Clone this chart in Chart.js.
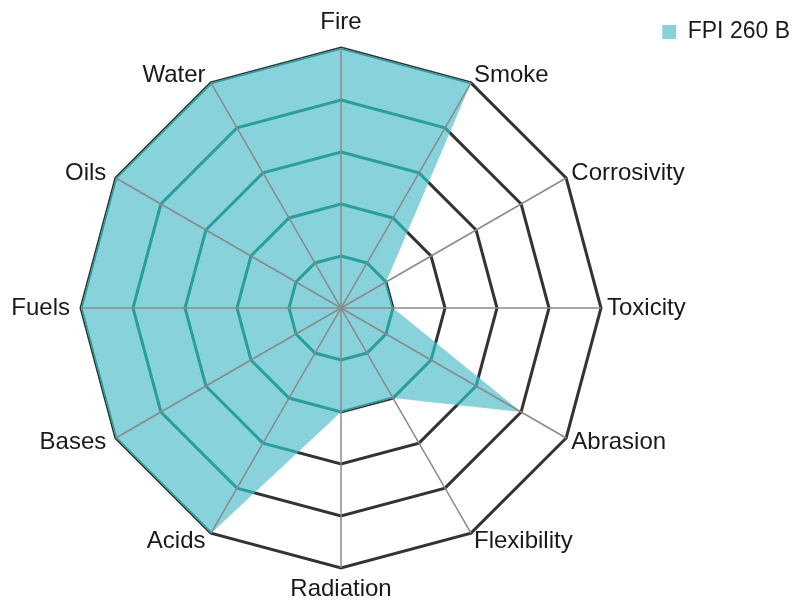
<!DOCTYPE html>
<html>
<head>
<meta charset="utf-8">
<script src="https://cdn.jsdelivr.net/npm/chart.js@4/dist/chart.umd.min.js"></script>
<style>
  html, body { margin: 0; padding: 0; background: #ffffff; }
  #wrap { width: 806px; height: 601px; position: relative; }
</style>
</head>
<body>
<div id="wrap"><canvas id="c"></canvas></div>
<script>
// ---- data ----
const categories = ['Fire', 'Smoke', 'Corrosivity', 'Toxicity', 'Abrasion', 'Flexibility',
                    'Radiation', 'Acids', 'Bases', 'Fuels', 'Oils', 'Water'];
const seriesName = 'FPI 260 B';
const seriesValues = [5, 5, 1, 1, 4, 2, 2, 5, 5, 5, 5, 5];
const scaleMin = 0;
const scaleMax = 5;
const scaleStep = 1;

// ---- styles ----
const FILL = '#88d2dc';
const RING_DARK = '#333333';
const RING_IN_FILL = '#2a9e9a';
const ANGLE_LINE = '#8a8a8a';
const TEXT = '#1a1a1a';
const FONT_FAMILY = '"Liberation Sans", Arial, Helvetica, sans-serif';

Chart.defaults.font.family = FONT_FAMILY;
Chart.defaults.color = TEXT;

const overlay = {
  id: 'overlay',
  afterDatasetsDraw(chart) {
    const r = chart.scales.r;
    const ctx = chart.ctx;
    const meta = chart.getDatasetMeta(0);
    const n = chart.data.labels.length;

    // grid rings seen through the filled area
    ctx.save();
    ctx.beginPath();
    meta.data.forEach((pt, i) => { if (i === 0) ctx.moveTo(pt.x, pt.y); else ctx.lineTo(pt.x, pt.y); });
    ctx.closePath();
    ctx.clip();
    ctx.strokeStyle = RING_IN_FILL;
    ctx.lineWidth = 3;
    r.ticks.forEach(t => {
      if (t.value <= r.min) return;
      const d = r.getDistanceFromCenterForValue(t.value);
      ctx.beginPath();
      for (let i = 0; i < n; i++) {
        const p = r.getPointPosition(i, d);
        if (i === 0) ctx.moveTo(p.x, p.y); else ctx.lineTo(p.x, p.y);
      }
      ctx.closePath();
      ctx.stroke();
    });
    ctx.restore();

    // angle lines on top
    ctx.save();
    ctx.strokeStyle = ANGLE_LINE;
    ctx.lineWidth = 1.5;
    for (let i = 0; i < n; i++) {
      const p = r.getPointPosition(i, r.drawingArea);
      ctx.beginPath();
      ctx.moveTo(r.xCenter, r.yCenter);
      ctx.lineTo(p.x, p.y);
      ctx.stroke();
    }
    ctx.restore();

    // point labels
    ctx.save();
    ctx.font = '24px ' + FONT_FAMILY;
    ctx.fillStyle = TEXT;
    ctx.textBaseline = 'middle';
    for (let i = 0; i < n; i++) {
      const p = r.getPointPosition(i, r.drawingArea + 5);
      const dx = p.x - r.xCenter, dy = p.y - r.yCenter;
      const d = Math.hypot(dx, dy);
      const ux = dx / d, uy = dy / d;
      let align = 'center';
      if (ux > 0.01) align = 'left';
      else if (ux < -0.01) align = 'right';
      ctx.textAlign = align;
      const offY = align === 'center' ? (uy < 0 ? 21 : 16) : 4;
      const offX = align === 'right' ? 6 : (align === 'left' ? 1 : 0);
      ctx.fillText(chart.data.labels[i], p.x + ux * offX, p.y + uy * offY);
    }
    ctx.restore();
  }
};

new Chart(document.getElementById('c'), {
  type: 'radar',
  data: {
    labels: categories,
    datasets: [{
      label: seriesName,
      data: seriesValues,
      backgroundColor: FILL,
      borderColor: FILL,
      borderWidth: 0,
      pointRadius: 0,
      pointHoverRadius: 0,
      fill: true
    }]
  },
  options: {
    responsive: true,
    maintainAspectRatio: false,
    animation: false,
    layout: { padding: { left: 81, right: 6, top: 0, bottom: 33 } },
    scales: {
      r: {
        min: scaleMin,
        max: scaleMax,
        ticks: { display: false, stepSize: scaleStep },
        grid: { color: RING_DARK, lineWidth: 3 },
        angleLines: { display: false },
        pointLabels: { display: false }
      }
    },
    plugins: {
      legend: {
        position: 'right',
        align: 'start',
        labels: {
          font: { size: 23 },
          color: TEXT,
          boxWidth: 14,
          boxHeight: 14,
          padding: 20.5
        }
      },
      title: {
        display: true,
        position: 'top',
        fullSize: false,
        text: '',
        font: { size: 10 },
        padding: { top: 0, bottom: 36 }
      },
      subtitle: {
        display: true,
        position: 'right',
        fullSize: false,
        weight: 500,
        text: '',
        font: { size: 10 },
        padding: { top: 0, bottom: 28 }
      },
      tooltip: { enabled: false }
    }
  },
  plugins: [overlay]
});
</script>
</body>
</html>
